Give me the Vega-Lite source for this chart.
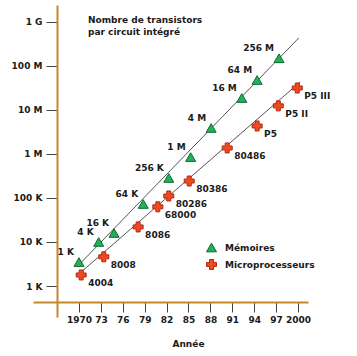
{
  "$schema": "https://vega.github.io/schema/vega-lite/v6.json",
  "width": 275,
  "height": 312,
  "autosize": "none",
  "padding": {"left": 33, "top": 5, "right": 49, "bottom": 39},
  "background": "white",
  "title": {
    "text": ["Nombre de transistors", "par circuit intégré"],
    "anchor": "start",
    "frame": "group",
    "orient": "top",
    "baseline": "top",
    "offset": 0,
    "dx": 55,
    "dy": 32,
    "font": "DejaVu Sans",
    "fontSize": 9,
    "fontWeight": "bold",
    "color": "#1a1a1a",
    "lineHeight": 12
  },
  "config": {
    "view": {"stroke": null},
    "axis": {"grid": false, "labelOverlap": false, "labelFlush": false}
  },
  "datasets": {
    "pts": [
      {"series": "Mémoires", "name": "1 K", "year": 1970.0, "value": 3500},
      {"series": "Mémoires", "name": "4 K", "year": 1972.7, "value": 10000},
      {"series": "Mémoires", "name": "16 K", "year": 1974.8, "value": 16000},
      {"series": "Mémoires", "name": "64 K", "year": 1978.8, "value": 73000},
      {"series": "Mémoires", "name": "256 K", "year": 1982.3, "value": 285000},
      {"series": "Mémoires", "name": "1 M", "year": 1985.3, "value": 850000},
      {"series": "Mémoires", "name": "4 M", "year": 1988.1, "value": 3900000},
      {"series": "Mémoires", "name": "16 M", "year": 1992.3, "value": 18700000},
      {"series": "Mémoires", "name": "64 M", "year": 1994.4, "value": 48000000},
      {"series": "Mémoires", "name": "256 M", "year": 1997.4, "value": 150000000},
      {"series": "Microprocesseurs", "name": "4004", "year": 1970.3, "value": 1780},
      {"series": "Microprocesseurs", "name": "8008", "year": 1973.4, "value": 4600},
      {"series": "Microprocesseurs", "name": "8086", "year": 1978.1, "value": 22000},
      {"series": "Microprocesseurs", "name": "68000", "year": 1980.8, "value": 63000},
      {"series": "Microprocesseurs", "name": "80286", "year": 1982.3, "value": 111000},
      {"series": "Microprocesseurs", "name": "80386", "year": 1985.1, "value": 243000},
      {"series": "Microprocesseurs", "name": "80486", "year": 1990.3, "value": 1370000},
      {"series": "Microprocesseurs", "name": "P5", "year": 1994.4, "value": 4330000},
      {"series": "Microprocesseurs", "name": "P5 II", "year": 1997.3, "value": 12400000},
      {"series": "Microprocesseurs", "name": "P5 III", "year": 1999.9, "value": 31600000}
    ],
    "trend": [
      {"series": "Mémoires", "year": 1970.1, "value": 3160},
      {"series": "Mémoires", "year": 2000.1, "value": 433000000},
      {"series": "Microprocesseurs", "year": 1970.3, "value": 2080},
      {"series": "Microprocesseurs", "year": 2000.3, "value": 43300000}
    ]
  },
  "encoding": {
    "x": {
      "field": "year", "type": "quantitative",
      "scale": {"domain": [1963.7, 2001.37], "nice": false, "zero": false},
      "axis": {
        "title": "Année",
        "offset": -15,
        "values": [1970, 1973, 1976, 1979, 1982, 1985, 1988, 1991, 1994, 1997, 2000],
        "labelExpr": "datum.value == 1970 || datum.value == 2000 ? toString(datum.value) : substring(toString(datum.value), 2)",
        "labelOverlap": false,
        "labelFlush": false,
        "domainColor": "#c8862d",
        "domainWidth": 2,
        "tickColor": "#444444",
        "tickSize": 10,
        "labelPadding": 3,
        "labelFont": "DejaVu Sans",
        "labelFontSize": 9,
        "labelFontWeight": "bold",
        "labelColor": "#1a1a1a",
        "titleFont": "DejaVu Sans",
        "titleFontSize": 9,
        "titleFontWeight": "bold",
        "titleColor": "#1a1a1a",
        "titleX": 155,
        "titleY": 41,
        "titleBaseline": "middle"
      }
    },
    "y": {
      "field": "value", "type": "quantitative",
      "scale": {"type": "log", "domain": [197.5, 2430000000], "nice": false, "zero": false},
      "axis": {
        "title": null,
        "offset": -24,
        "values": [1000, 10000, 100000, 1000000, 10000000, 100000000, 1000000000],
        "labelExpr": "datum.value == 1000 ? '1 K' : datum.value == 10000 ? '10 K' : datum.value == 100000 ? '100 K' : datum.value == 1000000 ? '1 M' : datum.value == 10000000 ? '10 M' : datum.value == 100000000 ? '100 M' : '1 G'",
        "labelOverlap": false,
        "labelFlush": false,
        "domainColor": "#c8862d",
        "domainWidth": 2,
        "tickColor": "#444444",
        "tickSize": 11,
        "labelPadding": 4,
        "labelFont": "DejaVu Sans",
        "labelFontSize": 9,
        "labelFontWeight": "bold",
        "labelColor": "#1a1a1a"
      }
    }
  },
  "layer": [
    {
      "data": {"name": "trend"},
      "mark": {"type": "line", "color": "#555555", "strokeWidth": 1},
      "encoding": {
        "detail": {"field": "series"}
      }
    },
    {
      "data": {"name": "pts"},
      "mark": {"type": "point", "filled": true, "opacity": 1, "size": 100, "strokeWidth": 1},
      "encoding": {
        "shape": {
          "field": "series", "type": "nominal",
          "scale": {"domain": ["Mémoires", "Microprocesseurs"], "range": ["triangle-up", "cross"]},
          "legend": {
            "title": null,
            "orient": "none",
            "legendX": 173,
            "legendY": 237,
            "symbolSize": 100,
            "symbolStrokeWidth": 1,
            "symbolOpacity": 1,
            "rowPadding": 3,
            "labelOffset": 8,
            "labelFont": "DejaVu Sans",
            "labelFontSize": 9,
            "labelFontWeight": "bold",
            "labelColor": "#1a1a1a",
            "padding": 0
          }
        },
        "fill": {
          "field": "series", "type": "nominal",
          "scale": {"domain": ["Mémoires", "Microprocesseurs"], "range": ["#22b05a", "#ee4a22"]},
          "legend": null
        },
        "stroke": {
          "field": "series", "type": "nominal",
          "scale": {"domain": ["Mémoires", "Microprocesseurs"], "range": ["#0e6a30", "#b02a10"]},
          "legend": null
        }
      }
    },
    {
      "data": {"name": "pts"},
      "transform": [{"filter": "datum.series == 'Mémoires'"}],
      "mark": {"type": "text", "align": "right", "baseline": "middle", "dx": -5, "dy": -10, "font": "DejaVu Sans", "fontSize": 9, "fontWeight": "bold", "color": "#1a1a1a"},
      "encoding": {
        "text": {"field": "name"}
      }
    },
    {
      "data": {"name": "pts"},
      "transform": [{"filter": "datum.series == 'Microprocesseurs'"}],
      "mark": {"type": "text", "align": "left", "baseline": "middle", "dx": 7, "dy": 8, "font": "DejaVu Sans", "fontSize": 9, "fontWeight": "bold", "color": "#1a1a1a"},
      "encoding": {
        "text": {"field": "name"}
      }
    }
  ]
}
